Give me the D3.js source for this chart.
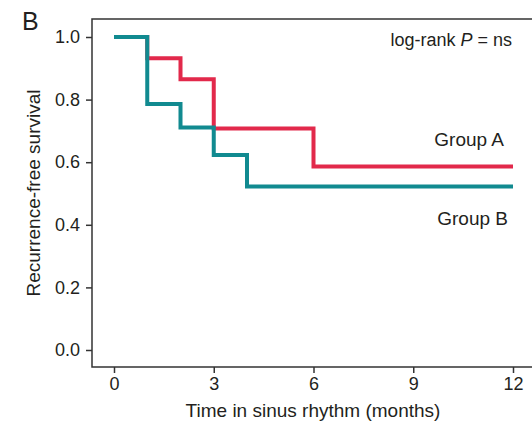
<!DOCTYPE html>
<html>
<head>
<meta charset="utf-8">
<script src="https://cdn.jsdelivr.net/npm/d3@7"></script>
<style>
  body { margin: 0; background: #fff; }
  text { font-family: "Liberation Sans", Arial, sans-serif; fill: #231f20; }
</style>
</head>
<body>
<div id="chart"></div>
<script>
// data
const TIME_A = [0, 1, 2, 3, 6, 12];
const SURV_A = [1.0, 0.932, 0.865, 0.708, 0.586, 0.586];
const TIME_B = [0, 1, 2, 3, 4, 12];
const SURV_B = [1.0, 0.786, 0.711, 0.623, 0.522, 0.522];
const X_TICKS = [0, 3, 6, 9, 12];
const Y_TICKS = [0, 0.2, 0.4, 0.6, 0.8, 1.0];

const WIDTH = 532
const HEIGHT = 424

const FRAME = {left: 92, top: 19, bottom: 367, right: 532};

const SVG = d3.select("#chart")
  .append("svg")
    .attr("width", WIDTH)
    .attr("height", HEIGHT);

const X = d3.scaleLinear().domain([0, 12]).range([114, 513]);
const Y = d3.scaleLinear().domain([0, 1]).range([350, 37]);

// frame: left, top and bottom lines
SVG.append("path")
  .attr("d", `M${FRAME.right},${FRAME.top}H${FRAME.left}V${FRAME.bottom}H${FRAME.right}`)
  .attr("fill", "none")
  .attr("stroke", "#333")
  .attr("stroke-width", 1.5);

// y axis
const yAxis = SVG.append("g")
  .attr("transform", `translate(${FRAME.left},0)`)
  .call(d3.axisLeft(Y).tickValues(Y_TICKS).tickFormat(d3.format(".1f")).tickSize(6).tickPadding(6));
yAxis.select(".domain").remove();
yAxis.attr("font-size", null).attr("font-family", null);
yAxis.selectAll("line").attr("stroke", "#333").attr("stroke-width", 1.5);
yAxis.selectAll("text").style("font-size", "18px").attr("fill", "#231f20");

// x axis
const xAxis = SVG.append("g")
  .attr("transform", `translate(0,${FRAME.bottom})`)
  .call(d3.axisBottom(X).tickValues(X_TICKS).tickSize(6).tickPadding(4));
xAxis.select(".domain").remove();
xAxis.attr("font-size", null).attr("font-family", null);
xAxis.selectAll("line").attr("stroke", "#333").attr("stroke-width", 1.5);
xAxis.selectAll("text").style("font-size", "18px").attr("fill", "#231f20");

// survival curves
const step = d3.line()
  .x((d) => {return X(d[0])})
  .y((d) => {return Y(d[1])})
  .curve(d3.curveStepAfter);

SVG.append("path")
  .datum(d3.zip(TIME_A, SURV_A))
  .attr("d", step)
  .attr("fill", "none")
  .attr("stroke", "#e2294b")
  .attr("stroke-width", 4);

SVG.append("path")
  .datum(d3.zip(TIME_B, SURV_B))
  .attr("d", step)
  .attr("fill", "none")
  .attr("stroke", "#118a90")
  .attr("stroke-width", 4);

// labels
SVG.append("text")
  .attr("x", 22).attr("y", 30)
  .style("font-size", "25px")
  .text("B");

const lr = SVG.append("text")
  .attr("x", 512).attr("y", 46)
  .attr("text-anchor", "end")
  .style("font-size", "18px");
lr.append("tspan").text("log-rank ");
lr.append("tspan").style("font-style", "italic").text("P");
lr.append("tspan").text(" = ns");

SVG.append("text")
  .attr("x", 504).attr("y", 146)
  .attr("text-anchor", "end")
  .style("font-size", "19px")
  .text("Group A");

SVG.append("text")
  .attr("x", 508).attr("y", 225)
  .attr("text-anchor", "end")
  .style("font-size", "19px")
  .text("Group B");

SVG.append("text")
  .attr("transform", "translate(40,193) rotate(-90)")
  .attr("text-anchor", "middle")
  .style("font-size", "19px")
  .text("Recurrence-free survival");

SVG.append("text")
  .attr("x", 313).attr("y", 417)
  .attr("text-anchor", "middle")
  .style("font-size", "19px")
  .text("Time in sinus rhythm (months)");
</script>
</body>
</html>
